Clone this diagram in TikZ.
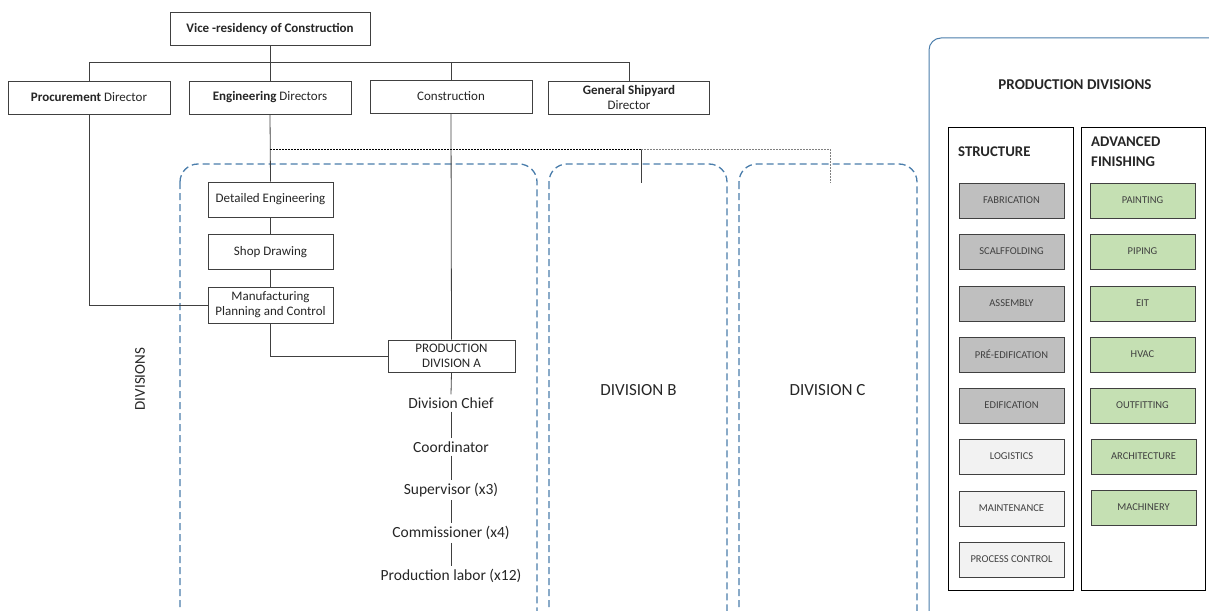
\documentclass[tikz,border=0pt]{standalone}
\usepackage{fontspec}
\setmainfont{Carlito}
\definecolor{linegray}{HTML}{404040}
\definecolor{divblue}{HTML}{4A7DAB}
\definecolor{txtdark}{HTML}{262626}
\definecolor{darkfill}{HTML}{BFBFBF}
\definecolor{lightfill}{HTML}{F2F2F2}
\definecolor{greenfill}{HTML}{C5E0B3}
\begin{document}
\begin{tikzpicture}[x=1pt,y=-1pt,
  every node/.style={text=txtdark},
  orgbox/.style={draw=linegray, fill=white, line width=0.9pt, inner sep=0pt,
    minimum width=162pt, minimum height=33pt, align=center,
    font=\fontsize{13}{15}\selectfont},
  subbox/.style={orgbox, minimum width=125pt, minimum height=35pt},
  link/.style={draw=linegray, line width=0.8pt},
  chainitem/.style={inner sep=3pt, font=\fontsize{15.5}{17}\selectfont},
  divbox/.style={draw=divblue, line width=1.3pt, dash pattern=on 7pt off 4pt,
    rounded corners=18pt},
  divlabel/.style={font=\fontsize{17}{19}\selectfont},
  column/.style={draw=black, line width=1pt, inner sep=0pt, minimum width=125pt,
    minimum height=463pt},
  unit/.style={draw=linegray, line width=0.8pt, inner sep=0pt, minimum width=105pt,
    minimum height=35pt, font=\fontsize{10.5}{12}\selectfont, text=linegray},
  darkunit/.style={unit, fill=darkfill},
  lightunit/.style={unit, fill=lightfill},
  greenunit/.style={unit, fill=greenfill},
  coltitle/.style={anchor=north west, align=left, inner sep=0pt,
    font=\bfseries\fontsize{14.8}{20}\selectfont}
]
\path[use as bounding box] (0,0) rectangle (1209,610);
\clip (0,0) rectangle (1209,610);

% division frames
\draw[divbox] (180,164) rectangle (537,640);
\draw[divbox] (549,164) rectangle (727,640);
\draw[divbox] (739,164) rectangle (917,640);

% top of the organisation
\node[orgbox, minimum width=200pt, font=\bfseries\fontsize{13}{15}\selectfont] (vice) at (270,28.5) {Vice -residency of Construction};
\node[orgbox] (proc) at (89,97.5) {\textbf{Procurement} Director};
\node[orgbox] (eng) at (270,97.5) {\textbf{Engineering} Directors};
\node[orgbox] (cons) at (451,96.5) {Construction};
\node[orgbox, minimum width=161pt] (gen) at (629,97.5) {\textbf{General Shipyard}\\Director};

\coordinate (bus) at (270,62);
\draw[link] (vice.south) -- (bus);
\draw[link] (proc.north) -- (proc.north |- bus) -- (gen.north |- bus) -- (gen.north);
\draw[link] (eng.north) -- (eng.north |- bus);
\draw[link] (cons.north) -- (cons.north |- bus);

% engineering chain
\node[subbox] (det) at (270.5,199.5) {Detailed Engineering};
\node[subbox] (shop) at (270.5,252) {Shop Drawing};
\node[subbox, minimum height=36pt] (mpc) at (270.5,305) {Manufacturing\\Planning and Control};
\node[orgbox, minimum width=127pt, minimum height=32pt] (pda) at (451.5,356) {PRODUCTION\\DIVISION A};

\draw[link] (eng.south) -- (det.north);
\draw[link] (det.south) -- (shop.north);
\draw[link] (shop.south) -- (mpc.north);
\draw[link] (mpc.south) |- (pda.west);
\draw[link] (proc.south) |- (mpc.west);
\draw[link] (cons.south) -- (pda.north);

% links from engineering to divisions B and C
\coordinate (tap) at (270,149);
\coordinate (toB) at (641,183);
\coordinate (toC) at (830,183);
\draw[draw=black, line width=0.9pt, dash pattern=on 2pt off 1pt] (tap) -- (tap -| toB);
\draw[link] (tap -| toB) -- (toB);
\draw[draw=gray, line width=0.8pt, dash pattern=on 1.5pt off 1.5pt] (tap -| toB) -- (tap -| toC) -- (toC);

% production division A hierarchy
\node[chainitem] (chief) at (451,403) {Division Chief};
\node[chainitem] (coord) at (451,447) {Coordinator};
\node[chainitem] (sup) at (451,490) {Supervisor (x3)};
\node[chainitem] (comm) at (451,533) {Commissioner (x4)};
\node[chainitem] (labor) at (451,576) {Production labor (x12)};
\draw[link] (pda.south) -- (chief.north);
\draw[link] (chief.south) -- (coord.north);
\draw[link] (coord.south) -- (sup.north);
\draw[link] (sup.south) -- (comm.north);
\draw[link] (comm.south) -- (labor.north);

\node[divlabel] (divB) at (638.5,390) {DIVISION B};
\node[divlabel] (divC) at (827.5,390) {DIVISION C};
\node[rotate=90, font=\fontsize{15}{17}\selectfont] (divs) at (140,379) {DIVISIONS};

% production divisions panel
\draw[draw=divblue, line width=1pt, rounded corners=12pt] (929,38) rectangle (1240,640);
\node[font=\bfseries\fontsize{15}{17}\selectfont] (ptitle) at (1075,85) {PRODUCTION DIVISIONS};

\node[column] (struct) at (1010.5,358.5) {};
\node[column, minimum width=124pt] (adv) at (1143,358.5) {};
\node[coltitle] (structT) at (958,147) {STRUCTURE};
\node[coltitle] (advT) at (1091,137) {ADVANCED\\FINISHING};

\node[darkunit] (fab) at (1011.5,200.5) {FABRICATION};
\node[darkunit] (scaf) at (1011.5,251.5) {SCALFFOLDING};
\node[darkunit] (assy) at (1011.5,303.5) {ASSEMBLY};
\node[darkunit] (pre) at (1011.5,354.5) {PRÉ-EDIFICATION};
\node[darkunit] (edif) at (1011.5,405.5) {EDIFICATION};
\node[lightunit] (log) at (1011.5,456.5) {LOGISTICS};
\node[lightunit] (maint) at (1011.5,508.5) {MAINTENANCE};
\node[lightunit] (proc2) at (1011.5,559.5) {PROCESS CONTROL};

\node[greenunit] (paint) at (1142.5,200.5) {PAINTING};
\node[greenunit] (pipe) at (1142.5,251.5) {PIPING};
\node[greenunit] (eit) at (1142.5,303.5) {EIT};
\node[greenunit] (hvac) at (1142.5,354.5) {HVAC};
\node[greenunit] (outf) at (1142.5,405.5) {OUTFITTING};
\node[greenunit] (arch) at (1143.5,456.5) {ARCHITECTURE};
\node[greenunit] (mach) at (1143.5,507.5) {MACHINERY};
\end{tikzpicture}
\end{document}
